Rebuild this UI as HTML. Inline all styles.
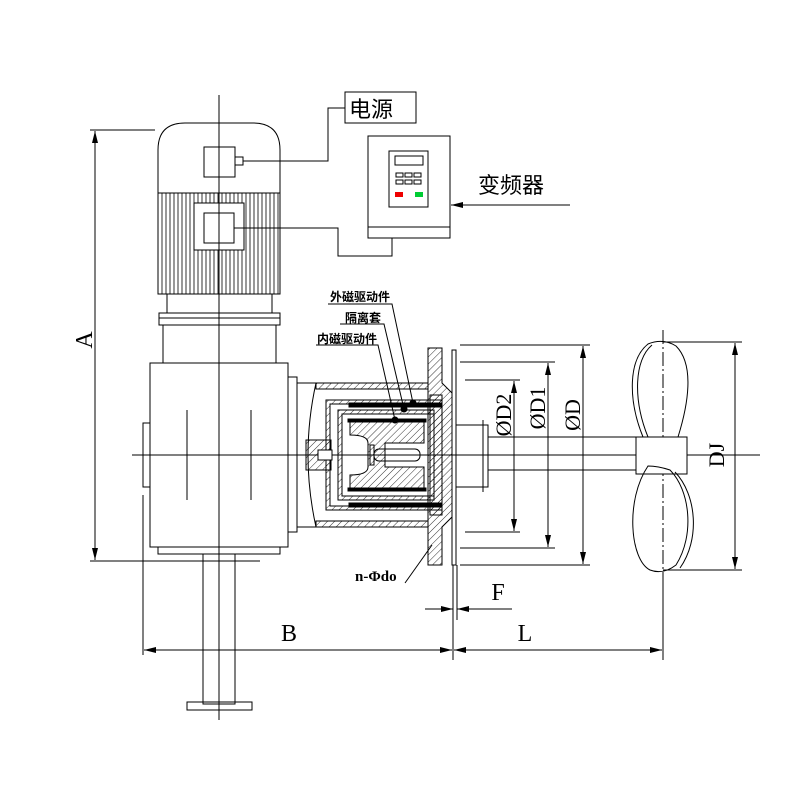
<!DOCTYPE html>
<html><head><meta charset="utf-8"><style>html,body{margin:0;padding:0;background:#fff}svg{display:block}</style></head>
<body>
<svg width="800" height="800" viewBox="0 0 800 800" xmlns="http://www.w3.org/2000/svg" font-family="'Liberation Serif','Noto Serif CJK SC',serif">
<defs>
<pattern id="h" width="5" height="5" patternUnits="userSpaceOnUse" patternTransform="rotate(45)"><line x1="0" y1="0" x2="0" y2="5" stroke="#000" stroke-width="0.8"/></pattern>
<marker id="a" markerWidth="12" markerHeight="6" refX="12" refY="3" orient="auto-start-reverse" markerUnits="userSpaceOnUse"><path d="M0,0 L12,3 L0,6z" fill="#000"/></marker>
</defs>
<g fill="none" stroke="#000" stroke-width="1">
<!-- motor -->
<path d="M158,294 V150 Q158,123 185,123 H253 Q280,123 280,150 V294 Z" fill="#fff"/>
<line x1="158" y1="193" x2="280" y2="193"/>
<g stroke-width="0.8">
<path d="M162,193V294M166,193V294M170,193V294M174,193V294M178,193V294M182,193V294M186,193V294M190,193V294M194,193V294M198,193V294M202,193V294M206,193V294M210,193V294M214,193V294M218,193V294M222,193V294M226,193V294M230,193V294M234,193V294M238,193V294M242,193V294M246,193V294M250,193V294M254,193V294M258,193V294M262,193V294M266,193V294M270,193V294M274,193V294M278,193V294"/>
</g>
<rect x="194" y="203" width="50" height="47" fill="#fff"/>
<rect x="204" y="213" width="30" height="30" fill="#fff"/>
<rect x="204" y="147" width="31" height="30"/>
<rect x="235" y="157" width="8" height="8"/>
<rect x="167" y="294" width="105" height="19"/>
<rect x="159" y="313" width="121" height="12"/>
<line x1="159" y1="318" x2="280" y2="318"/>
<rect x="163" y="325" width="113" height="38"/>
<!-- gearbox -->
<rect x="150" y="363" width="138" height="184"/>
<rect x="143" y="423" width="7" height="64"/>
<rect x="158" y="547" width="122" height="7"/>
<rect x="203" y="554" width="32" height="150"/>
<rect x="187" y="702" width="65" height="8"/>
<line x1="187" y1="410" x2="187" y2="500"/>
<line x1="251" y1="410" x2="251" y2="500"/>
<rect x="288" y="377" width="9" height="155"/>
<!-- centerlines -->
<line x1="219" y1="95" x2="219" y2="720"/>
<line x1="132" y1="455" x2="760" y2="455"/>
<line x1="663" y1="330" x2="663" y2="650" stroke-dasharray="14,3,2,3"/>
<!-- housing -->
<path d="M297,383 H428 V527 H297" />
<path d="M316,383 Q300,455 316,527"/>
<rect x="316" y="383" width="112" height="6" fill="url(#h)"/>
<rect x="316" y="521" width="112" height="6" fill="url(#h)"/>
<path d="M428,348 H442 V383 L452,393 V517 L442,527 V565 H428 Z" fill="url(#h)"/>
<rect x="452" y="350" width="4" height="215"/>
<!-- can -->
<rect x="326" y="400" width="116" height="110"/>
<rect x="330" y="404" width="112" height="102" fill="none"/>
<rect x="338" y="410" width="96" height="90" fill="none"/>
<path d="M326,400 h116 v4 h-112 v102 h112 v4 h-116z" fill="url(#h)"/>
<path d="M338,410 h96 v4 h-92 v82 h92 v4 h-96z" fill="url(#h)"/>
<rect x="349" y="403" width="92" height="4" fill="#000"/>
<rect x="349" y="503" width="92" height="4" fill="#000"/>
<rect x="348" y="419" width="78" height="3" fill="#000"/>
<rect x="348" y="488" width="78" height="3" fill="#000"/>
<path d="M350,422 H424 V443 H385 V467 H424 V488 H350 V475 Q368,475 368,467 V443 Q368,435 350,435 Z" fill="url(#h)"/>
<rect x="374" y="449" width="46" height="12" rx="5"/>
<rect x="370" y="445" width="4" height="20"/>
<rect x="306" y="440" width="25" height="30" fill="url(#h)"/>
<rect x="318" y="450" width="14" height="10" fill="#fff"/>
<circle cx="395" cy="420" r="3" fill="#000"/><circle cx="404" cy="409" r="3" fill="#000"/><circle cx="413" cy="403" r="3" fill="#000"/>
<rect x="430" y="395" width="12" height="120" fill="url(#h)"/>
<!-- output stub -->
<rect x="456" y="425" width="32" height="62"/>
<line x1="483" y1="420" x2="483" y2="492"/>
<line x1="488" y1="437" x2="636" y2="437"/>
<line x1="488" y1="470" x2="636" y2="470"/>
<!-- propeller -->
<rect x="636" y="437" width="51" height="37" fill="#fff"/>
<path d="M643,437 C628,400 628,360 648,344 Q663,338 676,346 C695,365 688,405 678,437"/>
<path d="M648,437 C633,400 634,360 652,345"/>
<path d="M648,466 C625,500 630,560 650,570 Q663,575 676,565 C695,535 690,490 670,470 Q658,466 648,466Z"/>
<path d="M675,472 C697,495 700,540 680,568"/>
<!-- dimension extension lines -->
<line x1="460" y1="345" x2="590" y2="345"/>
<line x1="460" y1="362" x2="555" y2="362"/>
<line x1="465" y1="380" x2="520" y2="380"/>
<line x1="465" y1="532" x2="520" y2="532"/>
<line x1="460" y1="548" x2="555" y2="548"/>
<line x1="460" y1="565" x2="590" y2="565"/>
<line x1="663" y1="342" x2="742" y2="342"/>
<line x1="663" y1="570" x2="742" y2="570"/>
<line x1="90" y1="130" x2="155" y2="130"/>
<line x1="90" y1="561" x2="260" y2="561"/>
<line x1="143" y1="495" x2="143" y2="655"/>
<line x1="453" y1="565" x2="453" y2="660"/>
<line x1="457" y1="565" x2="457" y2="620"/>
<line x1="663" y1="580" x2="663" y2="660"/>
<!-- dims -->
<line x1="583" y1="346" x2="583" y2="564" marker-start="url(#a)" marker-end="url(#a)"/>
<line x1="548" y1="363" x2="548" y2="547" marker-start="url(#a)" marker-end="url(#a)"/>
<line x1="514" y1="381" x2="514" y2="531" marker-start="url(#a)" marker-end="url(#a)"/>
<line x1="735" y1="343" x2="735" y2="569" marker-start="url(#a)" marker-end="url(#a)"/>
<line x1="95" y1="131" x2="95" y2="560" marker-start="url(#a)" marker-end="url(#a)"/>
<line x1="144" y1="650" x2="452" y2="650" marker-start="url(#a)" marker-end="url(#a)"/>
<line x1="454" y1="650" x2="662" y2="650" marker-start="url(#a)" marker-end="url(#a)"/>
<line x1="425" y1="609" x2="453" y2="609" marker-end="url(#a)"/>
<line x1="512" y1="609" x2="457" y2="609" marker-end="url(#a)"/>
<line x1="405" y1="583" x2="432" y2="545"/>
<!-- wires -->
<polyline points="243,161 328,161 328,108 345,108"/>
<polyline points="234,228 338,228 338,256 392,256 392,238"/>
<rect x="345" y="92" width="71" height="31"/>
<!-- VFD -->
<rect x="368" y="136" width="82" height="102"/>
<line x1="368" y1="227" x2="450" y2="227"/>
<rect x="389" y="151" width="39" height="56"/>
<rect x="395" y="156" width="28" height="9"/>
<rect x="396" y="173" width="7" height="4"/><rect x="405" y="173" width="7" height="4"/><rect x="414" y="173" width="7" height="4"/>
<rect x="396" y="180" width="7" height="4"/><rect x="405" y="180" width="7" height="4"/><rect x="414" y="180" width="7" height="4"/>
<line x1="570" y1="205" x2="451" y2="205" marker-end="url(#a)"/>
<!-- leaders -->
<polyline points="328,304 392,304 413,403"/>
<polyline points="340,324 384,324 404,409"/>
<polyline points="316,345 378,345 395,420"/>
</g>
<rect x="395" y="192" width="8" height="5" fill="#e00"/>
<rect x="415" y="192" width="8" height="5" fill="#0c3"/>
<g font-family="'Liberation Sans','Noto Sans CJK SC',sans-serif" font-weight="bold" fill="#000">
<text x="349" y="117" font-size="22" font-weight="normal">电源</text>
<text x="478" y="193" font-size="22" font-weight="normal">变频器</text>
<text x="330" y="301" font-size="12">外磁驱动件</text>
<text x="345" y="322" font-size="12">隔离套</text>
<text x="317" y="343" font-size="12">内磁驱动件</text>
</g>
<g font-size="24" fill="#000">
<text x="84" y="340" transform="rotate(-90 84 340)" text-anchor="middle" dy="8">A</text>
<text x="289" y="641" text-anchor="middle">B</text>
<text x="525" y="641" text-anchor="middle">L</text>
<text x="498" y="600" text-anchor="middle">F</text>
<text transform="translate(511,415) rotate(-90)" text-anchor="middle" font-size="22">ØD2</text>
<text transform="translate(545,408) rotate(-90)" text-anchor="middle" font-size="22">ØD1</text>
<text transform="translate(580,415) rotate(-90)" text-anchor="middle" font-size="22">ØD</text>
<text transform="translate(724,455) rotate(-90)" text-anchor="middle" font-size="22">DJ</text>
<text x="355" y="581" font-size="15" font-weight="bold">n-Φdo</text>
</g>
</svg>
</body></html>
